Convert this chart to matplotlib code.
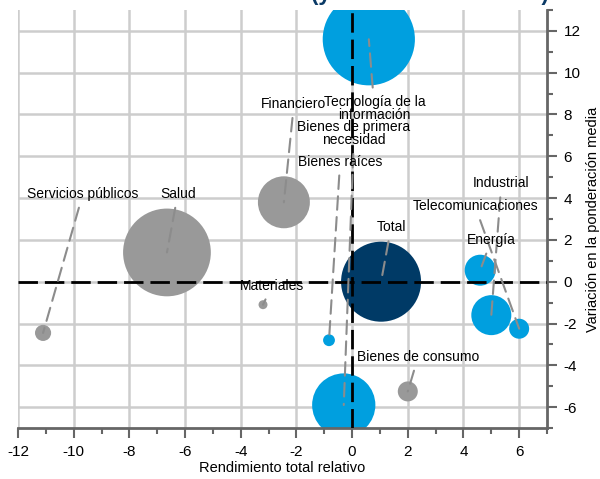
import matplotlib
matplotlib.use("Agg")
import matplotlib.pyplot as plt
from matplotlib.ticker import MultipleLocator

plt.rcParams['font.family'] = ['Liberation Sans', 'DejaVu Sans']
plt.rcParams['axes.unicode_minus'] = False

# ---- data ----
sectores = ["Tecnología de la\ninformación", "Financiero", "Bienes de primera\nnecesidad",
            "Bienes raíces", "Servicios públicos", "Salud", "Materiales", "Total",
            "Industrial", "Telecomunicaciones", "Energía", "Bienes de consumo"]
rendimiento = [0.6, -2.45, -0.3, -0.83, -11.1, -6.65, -3.2, 1.04, 5.0, 6.0, 4.6, 2.0]
variacion = [11.6, 3.8, -5.9, -2.8, -2.45, 1.4, -1.1, 0.0, -1.6, -2.25, 0.55, -5.25]
peso = [85, 27, 40, 1.4, 2.6, 77, 0.8, 64, 16, 4, 9.6, 4]
grupo = ["azul", "gris", "azul", "azul", "gris", "gris", "gris", "total",
         "azul", "azul", "azul", "gris"]

# label placement (layout, data coordinates)
etiqueta_x = [0.8, -2.09, 0.07, -0.43, -9.67, -6.26, -2.88, 1.4, 5.36, 4.42, 5.0, 2.37]
etiqueta_y = [8.3, 8.5, 7.1, 5.75, 4.2, 4.2, -0.2, 2.6, 4.7, 3.6, 2.0, -3.6]

colores = {"azul": "#009fdf", "gris": "#999999", "total": "#003a66"}

fig = plt.figure(figsize=(6.0, 4.79), dpi=100)
ax = fig.add_axes([18/600, 1 - 428/479, (547 - 18)/600, (428 - 10)/479])

ax.set_xlim(-12, 7)
ax.set_ylim(-7, 13)

ax.xaxis.set_major_locator(MultipleLocator(2))
ax.xaxis.set_minor_locator(MultipleLocator(1))
ax.yaxis.set_major_locator(MultipleLocator(2))
ax.yaxis.set_minor_locator(MultipleLocator(1))
ax.grid(True, which='major', color='#cdcdcd', lw=1.8, zorder=0)
ax.set_axisbelow(True)

for s in ['top', 'left']:
    ax.spines[s].set_visible(False)
for s in ['bottom', 'right']:
    ax.spines[s].set_color('#666666')
    ax.spines[s].set_linewidth(2)

ax.yaxis.tick_right()
ax.yaxis.set_label_position('right')
ax.tick_params(which='major', length=7, width=1.5, color='#666666', labelsize=11, pad=5)
ax.tick_params(which='minor', length=4, width=1.5, color='#666666')
ax.tick_params(axis='y', which='both', left=False, right=True)

ax.set_xlabel("Rendimiento total relativo", fontsize=10.5, labelpad=2)
ax.set_ylabel("Variación en la ponderación media", fontsize=10.5, labelpad=4)

cols = [colores[g] for g in grupo]
sizes = [p * 51.84 for p in peso]
ax.scatter(rendimiento, variacion, s=sizes, c=cols, edgecolors='none', zorder=2)

ax.axhline(0, color='black', lw=2, ls=(0, (7, 2.5)), zorder=3)
ax.axvline(0, color='black', lw=2, ls=(0, (7, 2.5)), zorder=3)

for nombre, x, y, lx, ly in zip(sectores, rendimiento, variacion, etiqueta_x, etiqueta_y):
    ax.annotate(nombre, xy=(x, y), xytext=(lx, ly), ha='center', va='center',
                fontsize=10, multialignment='center', linespacing=0.95, zorder=4,
                arrowprops=dict(arrowstyle='-', color='#8c8c8c', lw=1.5,
                                ls=(0, (6.5, 3.5)), shrinkA=3, shrinkB=0))

fig.text(311/600, 1.0, "(y cambio en el índice)", ha='left', va='baseline',
         fontsize=16, fontweight='bold', color='#0a3a66')

fig.savefig("out.png", dpi=100)
